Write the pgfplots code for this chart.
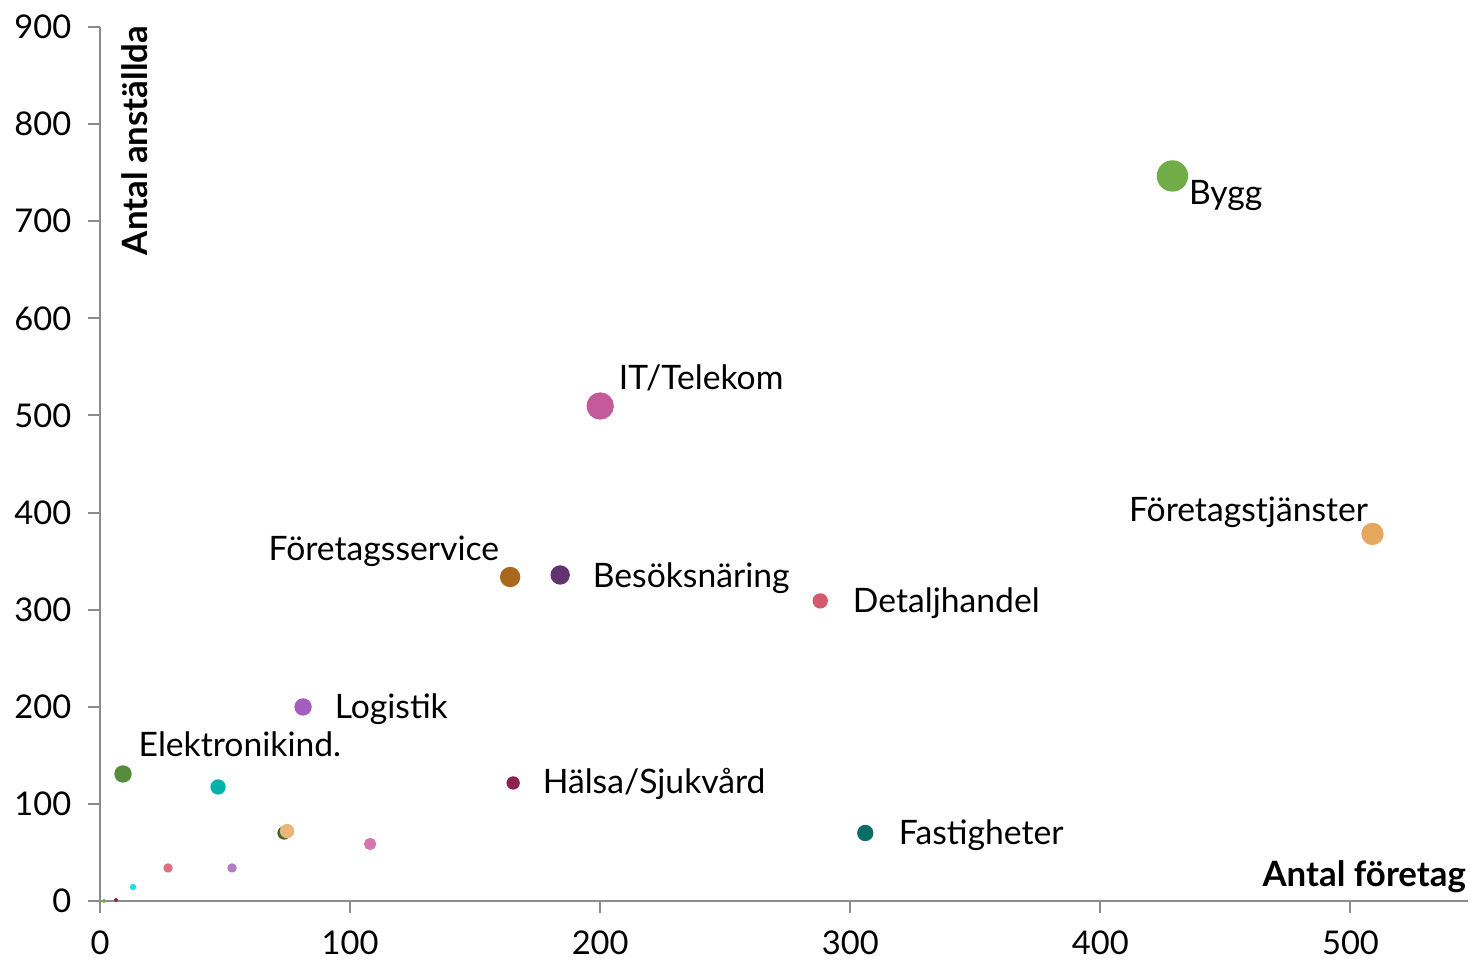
\documentclass[border=0pt]{standalone}
\usepackage{fontspec}
\setmainfont{Lato}
\usepackage{pgfplots}
\pgfplotsset{compat=1.18}
\definecolor{axgray}{HTML}{8C8C8C}
\definecolor{cBygg}{HTML}{70AD47}
\definecolor{cFtj}{HTML}{E5A65D}
\definecolor{cIT}{HTML}{C55A9A}
\definecolor{cFse}{HTML}{A8681E}
\definecolor{cBes}{HTML}{64326E}
\definecolor{cDet}{HTML}{D45A6E}
\definecolor{cLog}{HTML}{A35DBF}
\definecolor{cEle}{HTML}{558B3A}
\definecolor{cTeal}{HTML}{00B3AA}
\definecolor{cDkg}{HTML}{3B6B2A}
\definecolor{cOrs}{HTML}{EBB67A}
\definecolor{cPnk}{HTML}{D675AF}
\definecolor{cHal}{HTML}{8B2352}
\definecolor{cFas}{HTML}{0A6E66}
\definecolor{cRed}{HTML}{DE7080}
\definecolor{cPur}{HTML}{B57ACB}
\definecolor{cCya}{HTML}{1FE0E0}

\newcommand{\lbl}{\fontsize{10.1}{12}\selectfont}
\newcommand{\tck}{\fontsize{9.8}{11}\selectfont}
\newcommand{\bld}{\fontsize{10.45}{12}\selectfont\bfseries}

\begin{document}
\begin{tikzpicture}[lab/.style={inner sep=0pt, anchor=base west, font=\lbl}]
\begin{axis}[
  scale only axis, width=410.4pt, height=262.2pt,
  xmin=0, xmax=547, ymin=0, ymax=900,
  axis x line*=bottom, axis y line*=left,
  axis line style={axgray, line width=0.6pt},
  xtick={0,100,...,500}, ytick={0,100,...,900},
  tick align=outside, major tick length=3.6pt,
  tick style={axgray, line width=0.6pt},
  /pgf/number format/assume math mode=true,
  tick label style={font=\tck},
  yticklabel style={xshift=-1.5pt},
  xticklabel style={yshift=-1.8pt},
  clip=false,
]
\addplot[only marks, mark=*, mark size=0.4pt, color=cBygg] coordinates {(1.6,0)};
\addplot[only marks, mark=*, mark size=0.45pt, color=cHal] coordinates {(6.4,1)};
\addplot[only marks, mark=*, mark size=0.75pt, color=cCya] coordinates {(13.2,14.4)};
\addplot[only marks, mark=*, mark size=1.2pt, color=cRed] coordinates {(27.2,34)};
\addplot[only marks, mark=*, mark size=1.2pt, color=cPur] coordinates {(52.8,34)};
\addplot[only marks, mark=*, mark size=1.65pt, color=cPnk] coordinates {(108,58.7)};
\addplot[only marks, mark=*, mark size=1.8pt, color=cDkg] coordinates {(73.6,70)};
\addplot[only marks, mark=*, mark size=1.95pt, color=cOrs] coordinates {(74.8,72)};
\addplot[only marks, mark=*, mark size=2.1pt, color=cTeal] coordinates {(47.2,117.4)};
\addplot[only marks, mark=*, mark size=2.4pt, color=cEle] coordinates {(9.2,130.8)};
\addplot[only marks, mark=*, mark size=1.8pt, color=cHal] coordinates {(165.2,121.5)};
\addplot[only marks, mark=*, mark size=2.25pt, color=cFas] coordinates {(306,70)};
\addplot[only marks, mark=*, mark size=2.4pt, color=cLog] coordinates {(81.2,199.8)};
\addplot[only marks, mark=*, mark size=2.1pt, color=cDet] coordinates {(288,309)};
\addplot[only marks, mark=*, mark size=2.85pt, color=cFse] coordinates {(164,333.6)};
\addplot[only marks, mark=*, mark size=2.7pt, color=cBes] coordinates {(184,335.7)};
\addplot[only marks, mark=*, mark size=3.9pt, color=cIT] coordinates {(200,509.7)};
\addplot[only marks, mark=*, mark size=3.15pt, color=cFtj] coordinates {(508.8,378)};
\addplot[only marks, mark=*, mark size=4.5pt, color=cBygg] coordinates {(428.8,746.6)};

\node[lab] at (axis cs:435.2,717.7) {Bygg};
\node[lab] at (axis cs:207.2,527.2) {IT/Telekom};
\node[lab] at (axis cs:411.2,390.3) {Företagstjänster};
\node[lab] at (axis cs:67.2,350.1) {Företagsservice};
\node[lab] at (axis cs:196.8,323.3) {Besöksnäring};
\node[lab] at (axis cs:300.8,296.6) {Detaljhandel};
\node[lab] at (axis cs:93.6,187.4) {Logistik};
\node[lab] at (axis cs:15.2,148.3) {Elektronikind.};
\node[lab] at (axis cs:176.8,110.2) {Hälsa/Sjukvård};
\node[lab] at (axis cs:319.2,57.7) {Fastigheter};

\node[inner sep=0pt, anchor=base east, font=\bld] at (axis cs:546.4,14.4) {Antal företag};
\node[inner sep=0pt, anchor=base east, rotate=90, font=\bld] at (axis cs:18.8,902) {Antal anställda};
\end{axis}
\pgfresetboundingbox
\path ([shift={(-30pt,-18pt)}]current axis.south west) rectangle ([shift={(0.6pt,8.1pt)}]current axis.north east);
\end{tikzpicture}
\end{document}
